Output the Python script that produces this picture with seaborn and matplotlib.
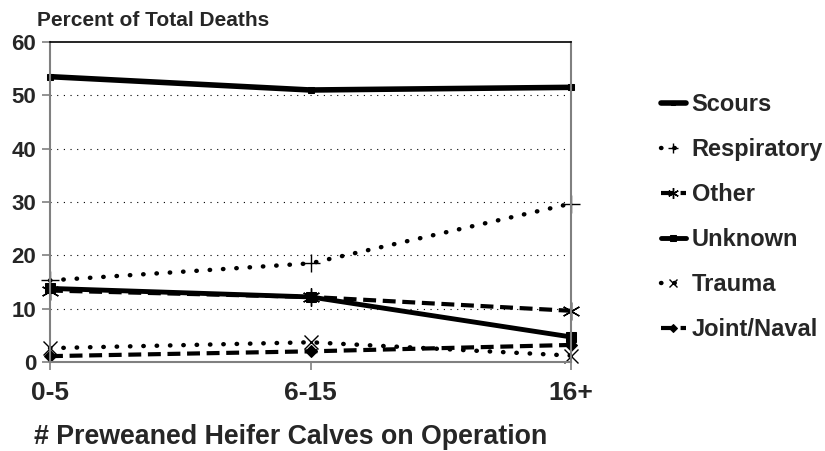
import matplotlib
matplotlib.use("Agg")
import matplotlib.pyplot as plt
import seaborn as sns
import pandas as pd

categories = ["0-5", "6-15", "16+"]
scours = [53.5, 51.0, 51.5]
respiratory = [15.3, 18.5, 29.7]
other = [13.4, 12.2, 9.6]
unknown = [13.8, 12.2, 4.7]
trauma = [2.6, 3.7, 1.2]
joint_naval = [1.1, 2.0, 3.2]
series_names = ["Scours", "Respiratory", "Other", "Unknown", "Trauma", "Joint/Naval"]
series_values = [scours, respiratory, other, unknown, trauma, joint_naval]

sns.set_theme(style="white")
plt.rcParams['font.family'] = ['Liberation Sans', 'DejaVu Sans']

fig = plt.figure(figsize=(8.25, 4.51), dpi=100)
ax = fig.add_axes([50/825, 89/451, 521/825, 320/451])

dot = (0, (0.1, 2.9))
dash = (0, (3.1, 1.6))
styles = {
    "Scours": dict(linestyle="-", linewidth=4.0, marker="s", markersize=4),
    "Respiratory": dict(linestyle=dot, linewidth=3.2, marker="+", markersize=13, markeredgewidth=1.0, dash_capstyle="round"),
    "Other": dict(linestyle=dash, linewidth=3.0, marker=(6, 2, 0), markersize=13, markeredgewidth=1.0),
    "Unknown": dict(linestyle="-", linewidth=3.5, marker="s", markersize=7),
    "Trauma": dict(linestyle=dot, linewidth=3.2, marker="x", markersize=10, markeredgewidth=1.0, dash_capstyle="round"),
    "Joint/Naval": dict(linestyle=dash, linewidth=3.0, marker="D", markersize=6.5),
}

frames = []
for name, vals in zip(series_names, series_values):
    frames.append(pd.DataFrame({"cat": categories, "val": vals, "series": name}))
df = pd.concat(frames, ignore_index=True)

for name in series_names:
    sub = df[df["series"] == name]
    sns.lineplot(data=sub, x="cat", y="val", ax=ax, color="black", label=name,
                 sort=False, markeredgecolor="black", markerfacecolor="black",
                 clip_on=False, **styles[name])

ax.set_xlim(0, 2)
ax.set_ylim(0, 60)
ax.set_yticks([0, 10, 20, 30, 40, 50, 60])
for y in [10, 20, 30, 40, 50]:
    ax.axhline(y, color="black", linestyle=(0, (1, 5)), linewidth=0.8, zorder=0)

for s in ["left", "bottom", "right"]:
    ax.spines[s].set_color("#808080")
    ax.spines[s].set_linewidth(1.5)
ax.spines["top"].set_color("black")
ax.spines["top"].set_linewidth(1.2)

ax.tick_params(axis="both", which="both", direction="out", length=6, width=1.2,
               color="#808080", pad=4)
ax.tick_params(axis="y", left=True, labelsize=16)
ax.tick_params(axis="x", bottom=True, labelsize=19, pad=8)
for lab in ax.get_xticklabels() + ax.get_yticklabels():
    lab.set_fontweight("bold")

ax.set_xlabel("")
ax.set_ylabel("")
fig.text(291/825, 1 - 437/451, "# Preweaned Heifer Calves on Operation", fontsize=19.3,
         fontweight="bold", ha="center", va="center")
fig.text(37/825, 1 - 21/451, "Percent of Total Deaths", fontsize=15, fontweight="bold",
         va="center", ha="left")

leg = ax.legend(loc="upper left", bbox_to_anchor=(661/825, 1 - 93/451),
                bbox_transform=fig.transFigure, frameon=False, borderpad=0,
                borderaxespad=0, fontsize=17, handlelength=1.05, handletextpad=0.25,
                labelspacing=0.93, markerscale=0.6)
for t in leg.get_texts():
    t.set_fontweight("bold")

fig.savefig("out.png", dpi=100)
